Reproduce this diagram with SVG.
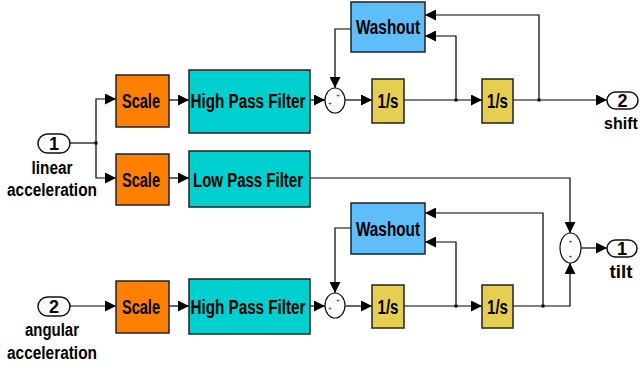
<svg xmlns="http://www.w3.org/2000/svg" width="640" height="367" viewBox="0 0 640 367">
  <defs>
    <marker id="arr" viewBox="0 0 10 10" refX="10" refY="5" markerWidth="11" markerHeight="11" markerUnits="userSpaceOnUse" orient="auto">
      <path d="M0,0 L10,5 L0,10 Z" fill="#000"/>
    </marker>
  </defs>
  <style>
    .blk { stroke: #222; stroke-width: 1.5; }
    .scale { fill: #FF8000; }
    .filt { fill: #00CFCF; }
    .wash { fill: #5EBEFA; }
    .integ { fill: #E6CF50; }
    .sum { fill: #fff; stroke: #111; stroke-width: 1.2; }
    .port { fill: #fff; stroke: #111; stroke-width: 1.5; }
    .t { font-family: "Liberation Sans", Arial, sans-serif; font-weight: bold; fill: #000; text-anchor: middle; }
    .bt { font-size: 20px; }
    .lt { font-size: 18px; }
    .pl { font-family: "Liberation Sans", Arial, sans-serif; font-size: 6px; fill: #000; text-anchor: middle; }
    .w { fill: none; stroke: #000; stroke-width: 1.2; }
    .wa { fill: none; stroke: #000; stroke-width: 1.2; marker-end: url(#arr); }
    .dot { fill: #000; }
  </style>

  <!-- connectors -->
  <g id="connectors">
    <!-- linear acceleration fan-out -->
    <polyline class="w" points="70,143 96,143"/>
    <polyline class="wa" points="96,143 96,99 116,99"/>
    <polyline class="wa" points="96,143 96,178 116,178"/>
    <rect class="dot" x="94.5" y="141.5" width="3" height="3"/>
    <!-- shift chain -->
    <polyline class="wa" points="169,100 189,100"/>
    <polyline class="wa" points="310,100 325,100"/>
    <polyline class="wa" points="351,29 335,29 335,88"/>
    <polyline class="wa" points="345,100 372,100"/>
    <polyline class="wa" points="404,100 482,100"/>
    <polyline class="wa" points="456,100 456,36 425,36"/>
    <rect class="dot" x="454.5" y="98.5" width="3" height="3"/>
    <polyline class="wa" points="513,100 607,100"/>
    <polyline class="wa" points="539,100 539,15 425,15"/>
    <rect class="dot" x="537.5" y="98.5" width="3" height="3"/>
    <!-- low pass path to tilt sum -->
    <polyline class="wa" points="169,178 189,178"/>
    <polyline class="wa" points="310,178 570,178 570,233"/>
    <!-- tilt chain -->
    <polyline class="wa" points="69,306 116,306"/>
    <polyline class="wa" points="169,306 189,306"/>
    <polyline class="wa" points="310,306 325,306"/>
    <polyline class="wa" points="351,228 335,228 335,293"/>
    <polyline class="wa" points="345,306 372,306"/>
    <polyline class="wa" points="404,306 482,306"/>
    <polyline class="wa" points="456,306 456,242 425,242"/>
    <rect class="dot" x="454.5" y="304.5" width="3" height="3"/>
    <polyline class="wa" points="513,306 570,306 570,263"/>
    <polyline class="wa" points="543,306 543,213 425,213"/>
    <rect class="dot" x="541.5" y="304.5" width="3" height="3"/>
    <polyline class="wa" points="581,248 607,248"/>
  </g>

  <!-- inputs -->
  <g id="in1">
    <rect class="port" x="38" y="134" width="32" height="19" rx="9.5"/>
    <text class="t lt" x="54" y="150">1</text>
    <text class="t lt" x="52" y="174" textLength="41" lengthAdjust="spacingAndGlyphs">linear</text>
    <text class="t lt" x="52" y="196" textLength="90" lengthAdjust="spacingAndGlyphs">acceleration</text>
  </g>
  <g id="in2">
    <rect class="port" x="38" y="297" width="32" height="19" rx="9.5"/>
    <text class="t lt" x="54" y="313">2</text>
    <text class="t lt" x="52" y="336" textLength="54" lengthAdjust="spacingAndGlyphs">angular</text>
    <text class="t lt" x="52" y="359" textLength="90" lengthAdjust="spacingAndGlyphs">acceleration</text>
  </g>

  <!-- scale blocks -->
  <g id="scale1">
    <rect class="blk scale" x="116" y="75" width="53" height="52"/>
    <text class="t bt" x="141" y="108" textLength="38" lengthAdjust="spacingAndGlyphs">Scale</text>
  </g>
  <g id="scale2">
    <rect class="blk scale" x="116" y="154" width="53" height="51"/>
    <text class="t bt" x="141" y="186.5" textLength="38" lengthAdjust="spacingAndGlyphs">Scale</text>
  </g>
  <g id="scale3">
    <rect class="blk scale" x="116" y="281" width="53" height="52"/>
    <text class="t bt" x="141" y="314" textLength="38" lengthAdjust="spacingAndGlyphs">Scale</text>
  </g>

  <!-- filters -->
  <g id="hpf1">
    <rect class="blk filt" x="189" y="70" width="121" height="63"/>
    <text class="t bt" x="248" y="108" textLength="115" lengthAdjust="spacingAndGlyphs">High Pass Filter</text>
  </g>
  <g id="lpf">
    <rect class="blk filt" x="189" y="151" width="121" height="56"/>
    <text class="t bt" x="248" y="186.5" textLength="110" lengthAdjust="spacingAndGlyphs">Low Pass Filter</text>
  </g>
  <g id="hpf2">
    <rect class="blk filt" x="189" y="279" width="121" height="55"/>
    <text class="t bt" x="248" y="314" textLength="115" lengthAdjust="spacingAndGlyphs">High Pass Filter</text>
  </g>

  <!-- washout blocks -->
  <g id="washout1">
    <rect class="blk wash" x="351" y="2" width="74" height="50"/>
    <text class="t bt" x="388" y="33.5" textLength="64" lengthAdjust="spacingAndGlyphs">Washout</text>
  </g>
  <g id="washout2">
    <rect class="blk wash" x="351" y="203" width="74" height="51"/>
    <text class="t bt" x="388" y="235.5" textLength="64" lengthAdjust="spacingAndGlyphs">Washout</text>
  </g>

  <!-- sums: one sign per input port -->
  <g id="sum1">
    <ellipse class="sum" cx="335" cy="100.5" rx="10" ry="12.5"/>
    <text class="pl"><tspan x="330" y="105">+</tspan><tspan x="338" y="97">+</tspan></text>
  </g>
  <g id="sum2">
    <ellipse class="sum" cx="335" cy="305.5" rx="10" ry="12.5"/>
    <text class="pl"><tspan x="330" y="310">+</tspan><tspan x="338" y="302">+</tspan></text>
  </g>
  <g id="sum3">
    <ellipse class="sum" cx="570.5" cy="248" rx="10.5" ry="15"/>
    <text class="pl"><tspan x="570.5" y="243">+</tspan><tspan x="570.5" y="258">+</tspan></text>
  </g>

  <!-- integrators -->
  <g id="int1">
    <rect class="blk integ" x="372" y="79" width="32" height="44"/>
    <text class="t bt" x="388" y="108" textLength="21" lengthAdjust="spacingAndGlyphs">1/s</text>
  </g>
  <g id="int2">
    <rect class="blk integ" x="482" y="79" width="31" height="44"/>
    <text class="t bt" x="497.5" y="108" textLength="21" lengthAdjust="spacingAndGlyphs">1/s</text>
  </g>
  <g id="int3">
    <rect class="blk integ" x="372" y="285" width="32" height="43"/>
    <text class="t bt" x="388" y="313.5" textLength="21" lengthAdjust="spacingAndGlyphs">1/s</text>
  </g>
  <g id="int4">
    <rect class="blk integ" x="482" y="285" width="31" height="43"/>
    <text class="t bt" x="497.5" y="313.5" textLength="21" lengthAdjust="spacingAndGlyphs">1/s</text>
  </g>

  <!-- outputs -->
  <g id="out2">
    <rect class="port" x="607" y="92" width="31" height="17" rx="8.5"/>
    <text class="t lt" x="622.5" y="106.5">2</text>
    <text class="t" style="font-size:16px" x="621" y="129">shift</text>
  </g>
  <g id="out1">
    <rect class="port" x="607" y="240" width="30" height="17" rx="8.5"/>
    <text class="t lt" x="622" y="254.5">1</text>
    <text class="t lt" x="621" y="278" textLength="23" lengthAdjust="spacingAndGlyphs">tilt</text>
  </g>
</svg>
